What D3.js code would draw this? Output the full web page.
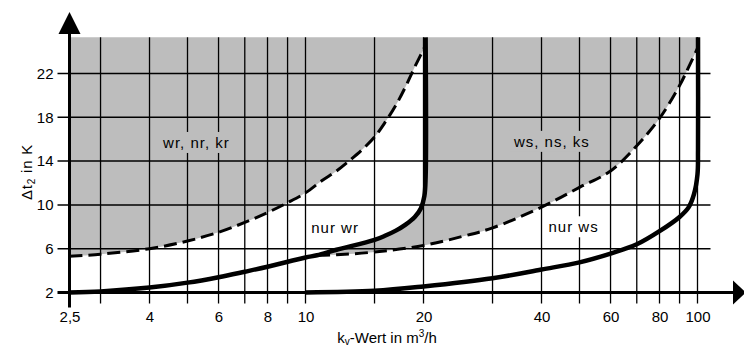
<!DOCTYPE html>
<html>
<head>
<meta charset="utf-8">
<script src="https://cdn.jsdelivr.net/npm/d3@7"></script>
<style>
  body { margin: 0; background: #fff; }
  svg { display: block; font-family: "Liberation Sans", Arial, sans-serif; }
</style>
</head>
<body>
<div id="chart"></div>
<script>
// ticks and grid
var xTickValues = [2.5, 4, 6, 8, 10, 20, 40, 60, 80, 100];
var xTickLabels = ["2,5", "4", "6", "8", "10", "20", "40", "60", "80", "100"];
var xGridValues = [3, 4, 5, 6, 7, 8, 9, 10, 15, 20, 30, 40, 50, 60, 70, 80, 90, 100];
var yTickValues = [2, 6, 10, 14, 18, 22];
var yTop = 25.3;

// curves as [kv, dt2]
var dashedWr = [[2.5, 5.3], [3, 5.5], [4, 6.0], [5, 6.7], [6, 7.5], [7, 8.4], [8, 9.3], [9, 10.2],
  [10, 11.1], [11, 12.2], [12, 13.1], [13, 14.1], [14, 15.1], [15, 16.2], [16, 17.6], [17, 19.1],
  [18, 20.8], [19, 22.6], [20.2, 24.5]];
var solidWr = [[2.5, 2.0], [3, 2.1], [4, 2.45], [5, 2.9], [6, 3.4], [7, 3.9], [8, 4.35], [10, 5.2],
  [10.7, 5.4], [12, 5.9], [15, 6.8], [16, 7.2], [17, 7.65], [18, 8.2], [19, 8.9], [19.7, 9.7],
  [20.1, 10.8], [20.25, 12.5], [20.25, 25.3]];
var dashedWs = [[10.7, 5.4], [12, 5.45], [15, 5.7], [20, 6.3], [25, 7.1], [30, 7.9], [40, 9.8],
  [50, 11.6], [60, 13.1], [70, 15.4], [80, 17.9], [90, 20.9], [95, 22.6], [100.3, 24.4]];
var solidWs = [[10, 2.0], [15, 2.15], [20, 2.55], [30, 3.3], [40, 4.1], [50, 4.75], [60, 5.55],
  [70, 6.4], [80, 7.6], [90, 8.9], [95, 9.8], [98, 11.0], [100, 12.8], [100.3, 15], [100.3, 25.3]];

var regionLabels = ["wr, nr, kr", "ws, ns, ks", "nur wr", "nur ws"];

var width = 744, height = 349;
var gray = "#bdbdbd";

var svg = d3.select("#chart").append("svg")
  .attr("width", width)
  .attr("height", height);

var x = d3.scaleLog().domain([2.5, 100]).range([69.5, 697.5]);
var y = d3.scaleLinear().domain([2, 22]).range([292.5, 73.5]);

var line = d3.line()
  .x(function(d) { return x(d[0]); })
  .y(function(d) { return y(d[1]); })
  .curve(d3.curveCatmullRom.alpha(0.5));

function pt(v, t) { return x(v) + "," + y(t); }

// shaded regions
var leftArea = line(dashedWr) + "L" + pt(20.25, yTop) + "L" + pt(2.5, yTop) + "Z";
svg.append("path").attr("d", leftArea).attr("fill", gray);

var wrUpper = solidWr.filter(function(d) { return d[0] >= 10.7; }).reverse();
var rightArea = line(dashedWs) + "L" + pt(100.3, yTop) + "L" + pt(20.25, yTop)
  + "L" + line(wrUpper).slice(1) + "Z";
svg.append("path").attr("d", rightArea).attr("fill", gray);

// grid
svg.append("g").selectAll("line")
  .data(xGridValues)
  .enter().append("line")
  .attr("x1", function(d) { return x(d); })
  .attr("x2", function(d) { return x(d); })
  .attr("y1", y(yTop))
  .attr("y2", y(2) + 11)
  .attr("stroke", "#000")
  .attr("stroke-width", 1.3);

svg.append("g").selectAll("line")
  .data(yTickValues.slice(1))
  .enter().append("line")
  .attr("x1", x(2.5) - 12)
  .attr("x2", x(100) + 13)
  .attr("y1", function(d) { return y(d); })
  .attr("y2", function(d) { return y(d); })
  .attr("stroke", "#000")
  .attr("stroke-width", 1.5);

// curves
svg.append("path").attr("d", line(dashedWr))
  .attr("fill", "none").attr("stroke", "#000")
  .attr("stroke-width", 3).attr("stroke-dasharray", "13,6");
svg.append("path").attr("d", line(dashedWs))
  .attr("fill", "none").attr("stroke", "#000")
  .attr("stroke-width", 3).attr("stroke-dasharray", "13,6");
svg.append("path").attr("d", line(solidWr))
  .attr("fill", "none").attr("stroke", "#000").attr("stroke-width", 4.5);
svg.append("path").attr("d", line(solidWs))
  .attr("fill", "none").attr("stroke", "#000").attr("stroke-width", 4.5);

// axes lines and arrows
var x0 = x(2.5), y0 = y(2);
svg.append("line")
  .attr("x1", x0).attr("x2", x0)
  .attr("y1", 30).attr("y2", y0 + 15)
  .attr("stroke", "#000").attr("stroke-width", 3);
svg.append("line")
  .attr("x1", x0 - 12).attr("x2", 736)
  .attr("y1", y0).attr("y2", y0)
  .attr("stroke", "#000").attr("stroke-width", 3);
svg.append("path")
  .attr("d", "M" + x0 + ",12L" + (x0 - 11) + ",34L" + (x0 + 11) + ",34Z")
  .attr("fill", "#000");
svg.append("path")
  .attr("d", "M746," + y0 + "L733," + (y0 - 12) + "L733," + (y0 + 12) + "Z")
  .attr("fill", "#000");

// tick labels
var xAxis = d3.axisBottom(x)
  .tickValues(xTickValues)
  .tickSize(0)
  .tickPadding(0)
  .tickFormat(function(d, i) { return xTickLabels[i]; });
var gx = svg.append("g").attr("transform", "translate(0," + (y0 + 19) + ")").call(xAxis);
gx.select(".domain").remove();
gx.selectAll("text").attr("font-size", 15).attr("fill", "#000")
  .attr("font-family", "Liberation Sans, Arial, sans-serif");

var yAxis = d3.axisLeft(y)
  .tickValues(yTickValues)
  .tickSize(0)
  .tickPadding(0);
var gy = svg.append("g").attr("transform", "translate(" + (x0 - 16) + ",0)").call(yAxis);
gy.select(".domain").remove();
gy.selectAll("text").attr("font-size", 15).attr("fill", "#000")
  .attr("font-family", "Liberation Sans, Arial, sans-serif");

// axis titles
var xt = svg.append("text")
  .attr("x", 387).attr("y", 343)
  .attr("text-anchor", "middle")
  .attr("font-size", 15);
xt.append("tspan").text("k");
xt.append("tspan").attr("font-size", 10).attr("dy", 2).text("v");
xt.append("tspan").attr("dy", -2).text("-Wert in m");
xt.append("tspan").attr("font-size", 10).attr("dy", -6).text("3");
xt.append("tspan").attr("dy", 6).text("/h");

var yt = svg.append("text")
  .attr("transform", "translate(32,172) rotate(-90)")
  .attr("text-anchor", "middle")
  .attr("font-size", 15)
  .attr("letter-spacing", 0.8);
yt.append("tspan").text("\u0394t");
yt.append("tspan").attr("font-size", 10).attr("dy", 3).text("2");
yt.append("tspan").attr("dy", -3).text(" in K");

// region labels, with a knock-out box behind them like the original
var labelPos = [[5.27, 15.2, gray], [42.5, 15.3, gray], [11.9, 7.45, "#fff"], [48.3, 7.5, "#fff"]];
regionLabels.forEach(function(txt, i) {
  var p = labelPos[i];
  var g = svg.append("g");
  var t = g.append("text")
    .attr("x", x(p[0])).attr("y", y(p[1]))
    .attr("text-anchor", "middle")
    .attr("font-size", 15)
    .attr("letter-spacing", 1)
    .text(txt);
  var b = t.node().getBBox();
  g.insert("rect", "text")
    .attr("x", b.x - 3).attr("y", b.y - 2)
    .attr("width", b.width + 6).attr("height", b.height + 4)
    .attr("fill", p[2]);
});
</script>
</body>
</html>
